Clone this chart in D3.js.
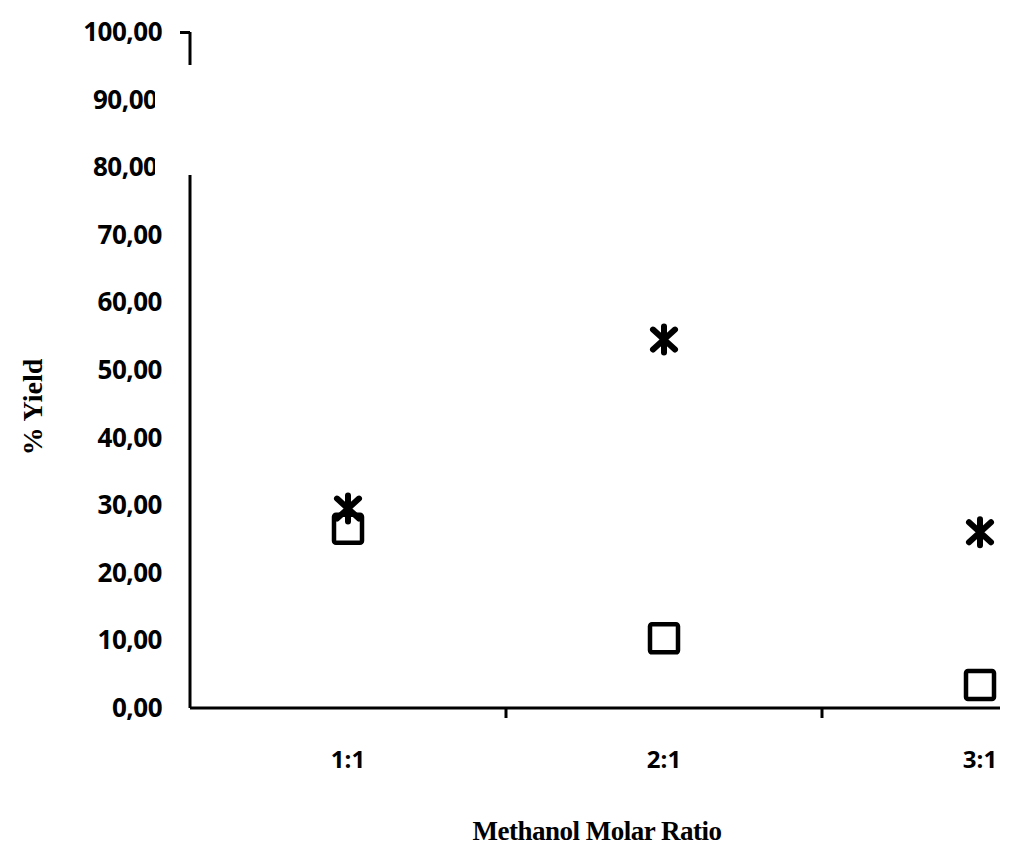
<!DOCTYPE html>
<html><head><meta charset="utf-8">
<script src="https://cdn.jsdelivr.net/npm/d3@7"></script>
<style>body{margin:0;background:#fff}</style>
</head><body><div id="chart"></div>
<script>
// values
const CATEGORIES = ["1:1", "2:1", "3:1"];
const STAR_VALUES = [29.5, 54.5, 26.0];
const SQUARE_VALUES = [26.5, 10.3, 3.4];
const Y_TICKS = [0, 10, 20, 30, 40, 50, 60, 70, 80, 90, 100];

const svg = d3.select("#chart").append("svg").attr("width", 1024).attr("height", 854);
const y = d3.scaleLinear().domain([0, 100]).range([708, 32]);
const x = d3.scaleBand().domain(CATEGORIES).range([190, 1138]);
const fmt = v => v.toFixed(2).replace(".", ",");
const cut = d => d >= 80 && d < 100;

svg.append("clipPath").attr("id", "lab").append("rect").attr("x", 0).attr("y", 0).attr("width", 155).attr("height", 854);

// y axis
const ya = svg.append("g").attr("transform", "translate(190,0)")
  .call(d3.axisLeft(y).tickValues([100]).tickSize(10).tickFormat(""));
ya.selectAll("line").attr("stroke", "#000").attr("stroke-width", 3);
ya.select(".domain").remove();
svg.append("line").attr("x1", 190).attr("x2", 190).attr("y1", y(100)).attr("y2", 65).attr("stroke", "#000").attr("stroke-width", 3);
svg.append("line").attr("x1", 190).attr("x2", 190).attr("y1", 175).attr("y2", y(0)).attr("stroke", "#000").attr("stroke-width", 3);

svg.append("g").selectAll("text").data(Y_TICKS).join("text")
  .attr("x", d => cut(d) ? 93 : 162)
  .attr("text-anchor", d => cut(d) ? "start" : "end")
  .attr("y", d => y(d) + 9)
  .attr("clip-path", d => cut(d) ? "url(#lab)" : null)
  .style("font-family", "'Open Sans', sans-serif").style("font-weight", "bold").style("font-size", "26px")
  .style("letter-spacing", "-0.5px")
  .text(fmt);

// x axis
svg.append("line").attr("x1", 190).attr("x2", 1000).attr("y1", y(0)).attr("y2", y(0)).attr("stroke", "#000").attr("stroke-width", 3);
svg.append("g").selectAll("line").data(CATEGORIES.slice(1)).join("line")
  .attr("x1", d => x(d)).attr("x2", d => x(d)).attr("y1", y(0)).attr("y2", y(0) + 10)
  .attr("stroke", "#000").attr("stroke-width", 3);
svg.append("g").selectAll("text").data(CATEGORIES).join("text")
  .attr("x", d => x(d) + x.bandwidth() / 2).attr("y", 768).attr("text-anchor", "middle")
  .style("font-family", "'Open Sans', sans-serif").style("font-weight", "bold").style("font-size", "24px")
  .text(d => d);

// titles
svg.append("text").attr("x", 597).attr("y", 840).attr("text-anchor", "middle")
  .style("font-family", "'Liberation Serif', serif").style("font-weight", "bold").style("font-size", "27px")
  .style("letter-spacing", "-0.5px")
  .text("Methanol Molar Ratio");
svg.append("text").attr("transform", "translate(42,407) rotate(-90)").attr("text-anchor", "middle")
  .style("font-family", "'Liberation Serif', serif").style("font-weight", "bold").style("font-size", "28px")
  .text("% Yield");

// squares
svg.append("g").selectAll("rect").data(SQUARE_VALUES).join("rect")
  .attr("x", (d, i) => x(CATEGORIES[i]) + x.bandwidth() / 2 - 14).attr("y", d => y(d) - 14)
  .attr("width", 28).attr("height", 28).attr("rx", 2)
  .attr("fill", "#fff").attr("stroke", "#000").attr("stroke-width", 4.5);

// stars (asterisk)
const star = svg.append("g").selectAll("g").data(STAR_VALUES).join("g")
  .attr("transform", (d, i) => `translate(${x(CATEGORIES[i]) + x.bandwidth() / 2},${y(d)})`);
star.append("path").attr("d", "M-11,-10L11,10M11,-10L-11,10M0,-13L0,13")
  .attr("stroke", "#000").attr("stroke-width", 6).attr("stroke-linecap", "round");
</script></body></html>
